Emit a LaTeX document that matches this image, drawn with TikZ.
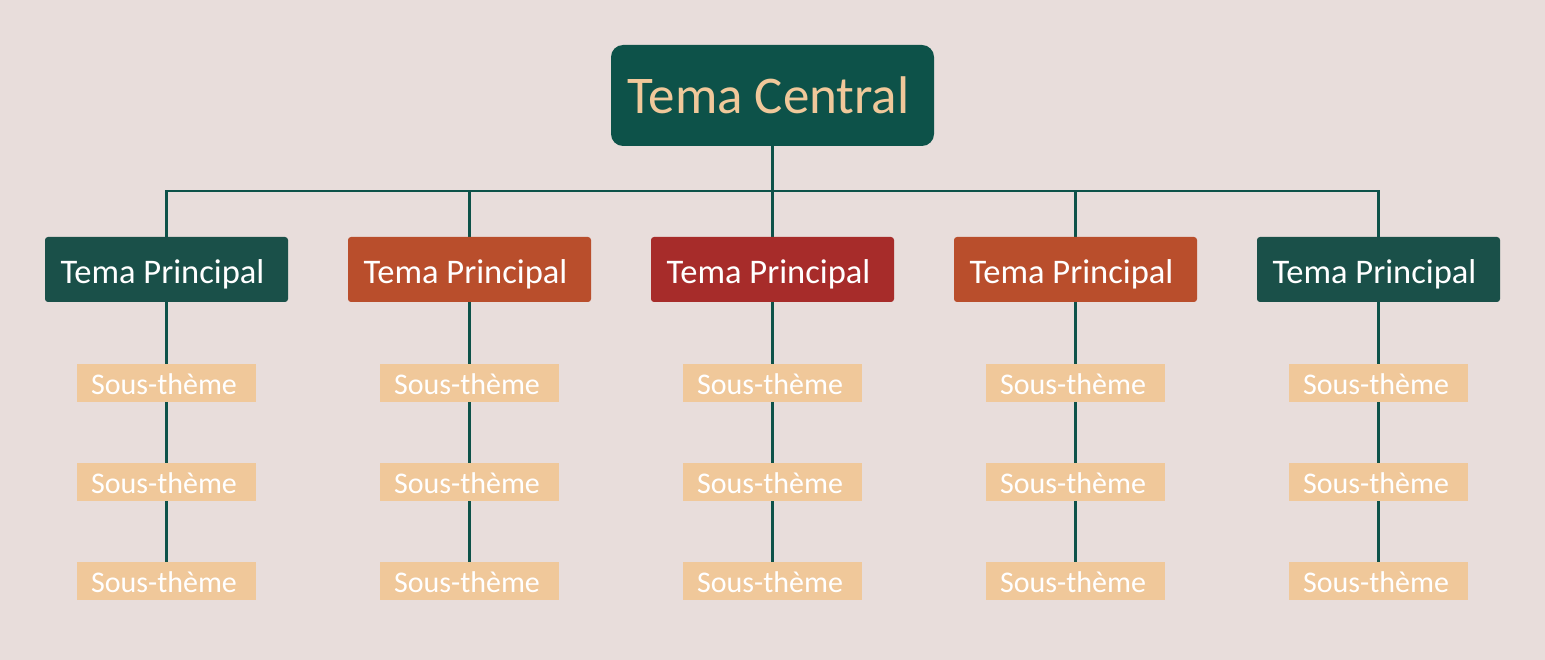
\documentclass[tikz,border=0pt]{standalone}
\usepackage{fontspec}
\setmainfont{Carlito}
\definecolor{bgc}{HTML}{E8DDDB}
\definecolor{cgreen}{HTML}{0D5249}
\definecolor{mgreen}{HTML}{1A5049}
\definecolor{morange}{HTML}{B94E2C}
\definecolor{mred}{HTML}{A72C2A}
\definecolor{peach}{HTML}{F0C89A}
\pgfdeclarelayer{bglayer}
\pgfdeclarelayer{lines}
\pgfsetlayers{bglayer,lines,main}
\newcommand{\mtext}{\hspace*{-8pt}Tema Principal}
\newcommand{\stext}{\hspace*{-5pt}Sous-thème}
\begin{document}
\begin{tikzpicture}[x=1pt,y=-1pt,
  central/.style={fill=cgreen, text=peach, rounded corners=12pt, minimum width=323pt, minimum height=101pt, inner sep=0pt, text height=37pt, text depth=0pt, font=\fontsize{53}{60}\selectfont},
  mainbox/.style={fill=#1, text=white, rounded corners=3pt, minimum width=243pt, minimum height=65pt, inner sep=0pt, text height=28pt, text depth=0pt, font=\fontsize{34.5}{40}\selectfont},
  subbox/.style={fill=peach, text=white, minimum width=179pt, minimum height=38pt, inner sep=0pt, text height=23pt, text depth=0pt, font=\fontsize{30}{36}\selectfont},
  conn/.style={draw=cgreen, line width=2.6pt}]
\begin{pgfonlayer}{bglayer}
\fill[bgc] (0,0) rectangle (1545,660);
\end{pgfonlayer}
\useasboundingbox (0,0) rectangle (1545,660);
\node[central] (c) at (772.5,95.5) {\hspace*{-8pt}Tema Central};
\node[mainbox=mgreen] (m1) at (166.5,269.5) {\mtext};
\node[mainbox=morange] (m2) at (469.5,269.5) {\mtext};
\node[mainbox=mred] (m3) at (772.5,269.5) {\mtext};
\node[mainbox=morange] (m4) at (1075.5,269.5) {\mtext};
\node[mainbox=mgreen] (m5) at (1378.5,269.5) {\mtext};
\foreach \i/\x in {1/166.5,2/469.5,3/772.5,4/1075.5,5/1378.5}{
  \node[subbox] (s\i a) at (\x,382.5) {\stext};
  \node[subbox] (s\i b) at (\x,481.5) {\stext};
  \node[subbox] (s\i c) at (\x,580.5) {\stext};
}
\coordinate (bus) at (772.5,191);
\begin{pgfonlayer}{lines}
\draw[conn] (c.south) -- (bus);
\draw[conn] (m1.north) |- (bus) -| (m5.north);
\draw[conn] (m2.north) -- (m2.north |- bus);
\draw[conn] (m3.north) -- (m3.north |- bus);
\draw[conn] (m4.north) -- (m4.north |- bus);
\foreach \i in {1,...,5}{
  \draw[conn] (m\i.south) -- (s\i a.center) -- (s\i b.center) -- (s\i c.center);
}
\end{pgfonlayer}
\end{tikzpicture}
\end{document}
